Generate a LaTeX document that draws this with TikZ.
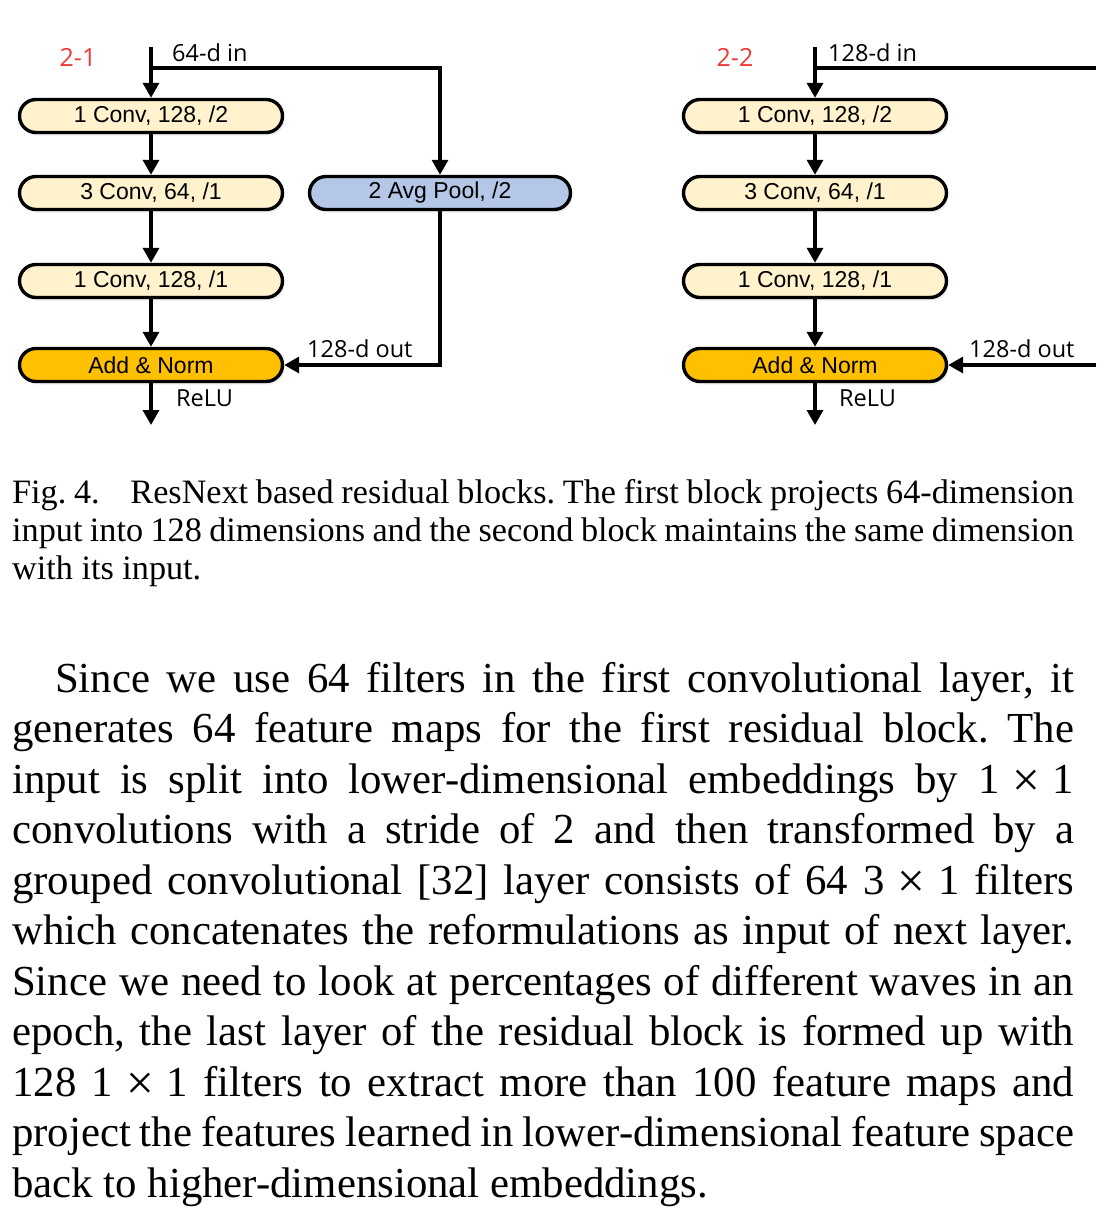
\documentclass[tikz,border=0pt]{standalone}
\usepackage{fontspec}
\setmainfont{Liberation Serif}
\newfontfamily\boxfont{Liberation Sans}
\newfontfamily\labfont{Open Sans}
\usetikzlibrary{arrows.meta,shadows}
\definecolor{convfill}{RGB}{255,242,204}
\definecolor{poolfill}{RGB}{180,199,231}
\definecolor{addfill}{RGB}{255,192,0}
\definecolor{tagred}{RGB}{240,55,55}
\newcommand{\tms}{\hspace{0.3em}\raisebox{-0.07em}{\scalebox{1.15}{×}}\hspace{0.3em}}
\frenchspacing
\tikzset{
  blk/.style={draw=black, line width=3.4pt, rounded corners=16.5pt,
    minimum width=263pt, minimum height=33pt, inner sep=0pt,
    font=\boxfont\fontsize{23}{27}\selectfont,
    drop shadow={opacity=0.15, shadow xshift=2pt, shadow yshift=-3pt}},
  conv/.style={blk, fill=convfill},
  pool/.style={blk, fill=poolfill, minimum width=261pt},
  addn/.style={blk, fill=addfill},
  conn/.style={line width=3.4pt, -{Triangle[length=15pt,width=16pt]}},
  wire/.style={line width=3.4pt},
  lab/.style={font=\labfont\fontsize{23.5}{27}\selectfont, inner sep=0pt, anchor=west},
  tag/.style={font=\labfont\fontsize{25}{29}\selectfont, text=tagred, inner sep=0pt},
  capline/.style={anchor=base west, inner sep=0pt, font=\fontsize{34.2}{38}\selectfont},
  bodyline/.style={anchor=base west, inner sep=0pt, font=\fontsize{42.8}{50.55}\selectfont},
}
\begin{document}
\begin{tikzpicture}[x=1pt,y=-1pt]
\useasboundingbox (0,0) rectangle (1096,1211);

% ---------- block 2-1 ----------
\node[tag] (t1) at (78,57) {2-1};
\coordinate (in1) at (151,47);
\coordinate (j1) at (151,68);
\node[conv] (a1) at (151,116) {1 Conv, 128, /2};
\node[conv] (b1) at (151,193) {3 Conv, 64, /1};
\node[conv] (c1) at (151,281) {1 Conv, 128, /1};
\node[addn] (d1) at (151,365) {Add \& Norm};
\node[pool] (p1) at (440,193) {2 Avg Pool, /2};
\coordinate (o1) at (151,425);
\draw[conn] (in1) -- (a1.north);
\draw[conn] (j1) -| (p1.north);
\draw[conn] (a1) -- (b1);
\draw[conn] (b1) -- (c1);
\draw[conn] (c1) -- (d1);
\draw[conn] (p1.south) |- (d1.east);
\draw[conn] (d1.south) -- (o1);
\node[lab] (l1) at (172,53) {64-d in};
\node[lab] (m1) at (307,349) {128-d out};
\node[lab] (r1) at (176,398) {ReLU};

% ---------- block 2-2 ----------
\node[tag] (t2) at (735,57) {2-2};
\coordinate (in2) at (815,47);
\coordinate (j2) at (815,68);
\coordinate (e2) at (1096,68);
\coordinate (f2) at (1096,365);
\node[conv] (a2) at (815,116) {1 Conv, 128, /2};
\node[conv] (b2) at (815,193) {3 Conv, 64, /1};
\node[conv] (c2) at (815,281) {1 Conv, 128, /1};
\node[addn] (d2) at (815,365) {Add \& Norm};
\coordinate (o2) at (815,425);
\draw[conn] (in2) -- (a2.north);
\draw[wire] (j2) -- (e2);
\draw[conn] (a2) -- (b2);
\draw[conn] (b2) -- (c2);
\draw[conn] (c2) -- (d2);
\draw[conn] (f2) -- (d2.east);
\draw[conn] (d2.south) -- (o2);
\node[lab] (l2) at (828,53) {128-d in};
\node[lab] (m2) at (969,349) {128-d out};
\node[lab] (r2) at (839,398) {ReLU};

% ---------- caption ----------
\node[capline] (cap1) at (12,503) {\makebox[1062pt][s]{Fig.~4.\hspace{0.9em}ResNext based residual blocks. The first block projects 64-dimension}};
\node[capline] (cap2) at (12,541) {\makebox[1062pt][s]{input into 128 dimensions and the second block maintains the same dimension}};
\node[capline] (cap3) at (12,579) {with its input.};

% ---------- body text ----------
\node[bodyline] (p01) at (55,692) {\makebox[1019pt][s]{Since we use 64 filters in the first convolutional layer, it}};
\node[bodyline] (p02) at (12,742.55) {\makebox[1062pt][s]{generates 64 feature maps for the first residual block. The}};
\node[bodyline] (p03) at (12,793.1) {\makebox[1062pt][s]{input is split into lower-dimensional embeddings by 1\tms1}};
\node[bodyline] (p04) at (12,843.65) {\makebox[1062pt][s]{convolutions with a stride of 2 and then transformed by a}};
\node[bodyline] (p05) at (12,894.2) {\makebox[1062pt][s]{grouped convolutional [32] layer consists of 64 3\tms1 filters}};
\node[bodyline] (p06) at (12,944.75) {\makebox[1062pt][s]{which concatenates the reformulations as input of next layer.}};
\node[bodyline] (p07) at (12,995.3) {\makebox[1062pt][s]{Since we need to look at percentages of different waves in an}};
\node[bodyline] (p08) at (12,1045.85) {\makebox[1062pt][s]{epoch, the last layer of the residual block is formed up with}};
\node[bodyline] (p09) at (12,1096.4) {\makebox[1062pt][s]{128 1\tms1 filters to extract more than 100 feature maps and}};
\node[bodyline] (p10) at (12,1146.95) {\makebox[1062pt][s]{project the features learned in lower-dimensional feature space}};
\node[bodyline] (p11) at (12,1197.5) {back to higher-dimensional embeddings.};
\end{tikzpicture}
\end{document}
